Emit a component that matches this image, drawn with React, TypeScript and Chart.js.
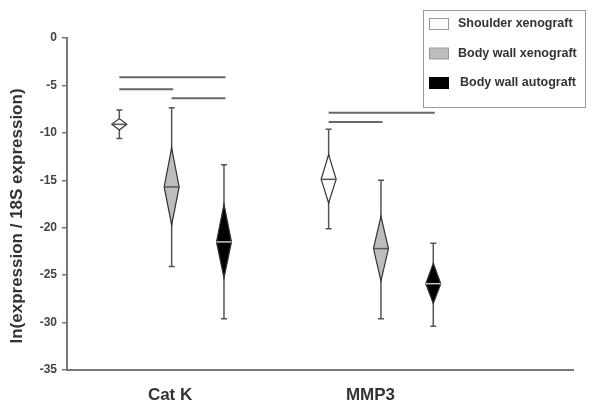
import React, { useEffect, useRef } from "react";
import { Chart, registerables } from "chart.js";

Chart.register(...registerables);

// ---- data ----
const categories = ["Cat K", "MMP3"];
const categoryPos = [1.97, 5.8];
const groups = ["Shoulder xenograft", "Body wall xenograft", "Body wall autograft"];
const groupOf = [0, 1, 2, 0, 1, 2];
const positions = [1, 2, 3, 5, 6, 7];
const means = [-9.1, -15.7, -21.5, -14.9, -22.2, -25.9];
const ciUpper = [-8.5, -11.6, -17.5, -12.3, -18.8, -23.75];
const ciLower = [-9.7, -19.7, -25.3, -17.4, -25.6, -28.0];
const maxVals = [-7.6, -7.35, -13.35, -9.63, -15.0, -21.65];
const minVals = [-10.6, -24.1, -29.6, -20.1, -29.6, -30.4];
const sigFrom = [1, 1, 2, 5, 5];
const sigTo = [3, 2, 3, 7, 6];
const sigLevel = [-4.15, -5.4, -6.36, -7.87, -8.86];
const yTicks = [0, -5, -10, -15, -20, -25, -30, -35];

// ---- styles ----
const FONT = '"Liberation Sans", Arial, Helvetica, sans-serif';
const fillColors = ["#ffffff", "#bdbdbd", "#000000"];
const meanColors = ["#555555", "#555555", "#c8c8c8"];
const TEXT = "#333333";

const drawPlugin = {
  id: "diamonds",
  afterDatasetsDraw(chart: any) {
    const { ctx, scales } = chart;
    const x = scales.x;
    const y = scales.y;
    ctx.save();

    // significance lines
    ctx.strokeStyle = "#666";
    ctx.lineWidth = 2;
    for (let i = 0; i < sigFrom.length; i++) {
      const yy = y.getPixelForValue(sigLevel[i]);
      ctx.beginPath();
      ctx.moveTo(x.getPixelForValue(sigFrom[i]), yy);
      ctx.lineTo(x.getPixelForValue(sigTo[i]) + 1.5, yy);
      ctx.stroke();
    }

    const hw = 7.5;
    for (let i = 0; i < positions.length; i++) {
      const px = x.getPixelForValue(positions[i]);
      const g = groupOf[i];
      const yMax = y.getPixelForValue(maxVals[i]);
      const yMin = y.getPixelForValue(minVals[i]);
      // whisker
      ctx.strokeStyle = "#555";
      ctx.lineWidth = 1.5;
      ctx.beginPath();
      ctx.moveTo(px, yMax);
      ctx.lineTo(px, yMin);
      ctx.moveTo(px - 3, yMax);
      ctx.lineTo(px + 3, yMax);
      ctx.moveTo(px - 3, yMin);
      ctx.lineTo(px + 3, yMin);
      ctx.stroke();
      // diamond
      const yu = y.getPixelForValue(ciUpper[i]);
      const yl = y.getPixelForValue(ciLower[i]);
      const ym = y.getPixelForValue(means[i]);
      ctx.beginPath();
      ctx.moveTo(px, yu);
      ctx.lineTo(px + hw, ym);
      ctx.lineTo(px, yl);
      ctx.lineTo(px - hw, ym);
      ctx.closePath();
      ctx.fillStyle = fillColors[g];
      ctx.fill();
      ctx.strokeStyle = "#333";
      ctx.lineWidth = 1.2;
      ctx.stroke();
      // mean line
      ctx.strokeStyle = meanColors[g];
      ctx.lineWidth = 1.5;
      ctx.beginPath();
      ctx.moveTo(px - hw, ym);
      ctx.lineTo(px + hw, ym);
      ctx.stroke();
    }

    // category labels
    ctx.fillStyle = TEXT;
    ctx.font = `bold 17px ${FONT}`;
    ctx.textAlign = "center";
    ctx.textBaseline = "alphabetic";
    for (let i = 0; i < categories.length; i++) {
      ctx.fillText(categories[i], x.getPixelForValue(categoryPos[i]), 400);
    }

    // y title
    ctx.save();
    ctx.translate(17, 216);
    ctx.rotate(-Math.PI / 2);
    ctx.font = `bold 17px ${FONT}`;
    ctx.textAlign = "center";
    ctx.textBaseline = "middle";
    ctx.fillText("ln(expression / 18S expression)", 0, 0);
    ctx.restore();

    // legend
    ctx.strokeStyle = "#999";
    ctx.lineWidth = 1;
    ctx.strokeRect(423.5, 10.5, 162, 97);
    const rowY = [24, 53.5, 83];
    const textX = [458, 458, 460];
    for (let g = 0; g < groups.length; g++) {
      ctx.fillStyle = fillColors[g];
      ctx.fillRect(429.5, rowY[g] - 5.5, 19, 11);
      ctx.strokeStyle = g === 2 ? "#000" : "#999";
      ctx.strokeRect(429.5, rowY[g] - 5.5, 19, 11);
      ctx.fillStyle = TEXT;
      ctx.font = `bold 12.5px ${FONT}`;
      ctx.textAlign = "left";
      ctx.textBaseline = "middle";
      ctx.fillText(groups[g], textX[g], rowY[g]);
    }
    ctx.restore();
  },
};

export default function App() {
  const ref = useRef<HTMLCanvasElement>(null);
  useEffect(() => {
    const chart = new Chart(ref.current as HTMLCanvasElement, {
      type: "scatter",
      data: {
        datasets: [
          {
            data: positions.map((p, i) => ({ x: p, y: means[i] })),
            pointRadius: 0,
            showLine: false,
          },
        ],
      },
      options: {
        animation: false,
        responsive: false,
        events: [],
        layout: { padding: { top: 38, right: 28, left: 0, bottom: 0 } },
        plugins: { legend: { display: false }, tooltip: { enabled: false } },
        scales: {
          x: {
            type: "linear",
            min: 0,
            max: 9.67,
            grid: { display: false },
            border: { color: "#777", width: 2 },
            ticks: { display: false },
            afterFit: (s: any) => {
              s.height = 37;
            },
          },
          y: {
            type: "linear",
            min: -35,
            max: 0,
            afterBuildTicks: (s: any) => {
              s.ticks = yTicks.map((v) => ({ value: v }));
            },
            grid: { drawOnChartArea: false, tickLength: 5, color: "#777", lineWidth: 1.5 },
            border: { color: "#777", width: 2 },
            ticks: {
              padding: 5,
              color: "#444",
              font: { family: FONT, size: 12, weight: "bold" },
            },
            afterFit: (s: any) => {
              s.width = 67;
            },
          },
        },
      },
      plugins: [drawPlugin],
    } as any);
    return () => chart.destroy();
  }, []);
  return (
    <div style={{ position: "absolute", left: 0, top: 0, width: 601, height: 407, background: "#fff" }}>
      <canvas ref={ref} width={601} height={407} style={{ display: "block" }} />
    </div>
  );
}
